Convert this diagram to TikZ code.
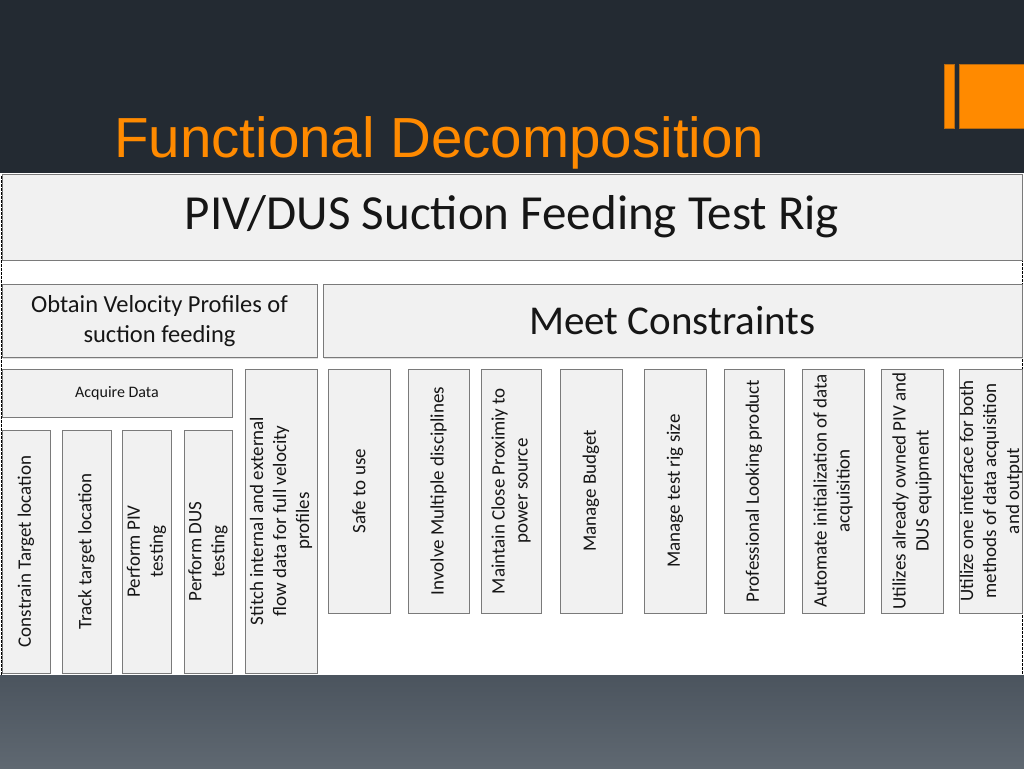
\documentclass[tikz,border=0pt]{standalone}
\usepackage{fontspec}
\setmainfont{Carlito}
\newfontfamily\titlefont{Liberation Sans}
\usetikzlibrary{shadows}
\definecolor{darkbg}{HTML}{232A32}
\definecolor{botA}{HTML}{4B545E}
\definecolor{botB}{HTML}{5F6871}
\definecolor{orng}{HTML}{FF8A00}
\definecolor{orngline}{HTML}{B86A10}
\definecolor{boxline}{HTML}{7A7A7A}
\definecolor{boxfill}{HTML}{F1F1F1}
\definecolor{txt}{HTML}{161616}
\tikzset{
  hbox/.style={draw=boxline, line width=0.8pt, rectangle, inner sep=0pt, outer sep=0pt,
    fill=boxfill, text=txt, align=center,
    drop shadow={opacity=0.25, shadow xshift=1pt, shadow yshift=-1.2pt}},
  vbox/.style={hbox, rotate=90, font=\fontsize{19}{23}\selectfont},
}
\begin{document}
\begin{tikzpicture}[x=1pt,y=-1pt]
\useasboundingbox (0,0) rectangle (1024,768);
% backgrounds
\fill[darkbg] (0,0) rectangle (1024,175);
\fill[white] (0,173) rectangle (1024,676);
\draw[black, line width=0.6pt, dash pattern=on 2.5pt off 1.5pt] (1,176) rectangle (1022.5,676);
\shade[top color=botA, bottom color=botB] (0,675) rectangle (1024,768);
% logo
\fill[orng, draw=orngline, line width=0.6pt] (944.5,64) rectangle (954,128);
\fill[orng, draw=orngline, line width=0.6pt] (959.5,64) rectangle (1026,128);
% title
\node[anchor=base west, inner sep=0pt, text=orng, font=\titlefont\fontsize{56.5}{60}\selectfont] (title) at (114,157) {Functional Decomposition};
% top level
\node[hbox, minimum width=1020pt, minimum height=86pt, font=\fontsize{49}{56}\selectfont] (rig) at (512,217) {PIV/DUS Suction Feeding Test Rig};
\node[hbox, minimum width=315pt, minimum height=73pt, font=\fontsize{24.5}{30}\selectfont] (obtain) at (159.5,321) {Obtain Velocity Profiles of\\suction feeding};
\node[hbox, minimum width=699pt, minimum height=73pt, font=\fontsize{41}{48}\selectfont] (meet) at (672.5,321) {Meet Constraints};
\node[hbox, minimum width=230pt, minimum height=48pt, font=\fontsize{16}{19}\selectfont] (acquire) at (117,393) {Acquire Data};
% acquire sub boxes
\node[vbox, minimum width=243pt, minimum height=48pt] (constrain) at (26,551.5) {Constrain Target location};
\node[vbox, minimum width=243pt, minimum height=49pt] (track) at (86.5,551.5) {Track target location};
\node[vbox, minimum width=243pt, minimum height=49pt] (piv) at (146.5,551.5) {Perform PIV\\testing};
\node[vbox, minimum width=243pt, minimum height=48pt] (dus) at (208,551.5) {Perform DUS\\testing};
\node[vbox, minimum width=304pt, minimum height=72pt] (stitch) at (281,521) {Stitch internal and external\\flow data for full velocity\\profiles};
% constraints
\node[vbox, minimum width=244pt, minimum height=62pt] (safe) at (359,491) {Safe to use};
\node[vbox, minimum width=244pt, minimum height=61pt] (involve) at (438.5,491) {Involve Multiple disciplines};
\node[vbox, minimum width=244pt, minimum height=60pt] (proxim) at (511,491) {Maintain Close Proximiy to\\power source};
\node[vbox, minimum width=244pt, minimum height=62pt] (budget) at (591,491) {Manage Budget};
\node[vbox, minimum width=244pt, minimum height=62pt] (size) at (675,491) {Manage test rig size};
\node[vbox, minimum width=244pt, minimum height=60pt] (prof) at (754,491) {Professional Looking product};
\node[vbox, minimum width=244pt, minimum height=62pt] (auto) at (833,491) {Automate initialization of data\\acquisition};
\node[vbox, minimum width=244pt, minimum height=62pt] (owned) at (912,491) {Utilizes already owned PIV and\\DUS equipment};
\node[vbox, minimum width=244pt, minimum height=62pt] (iface) at (991,491) {Utilize one interface for both\\methods of data acquisition\\and output};
\end{tikzpicture}
\end{document}
